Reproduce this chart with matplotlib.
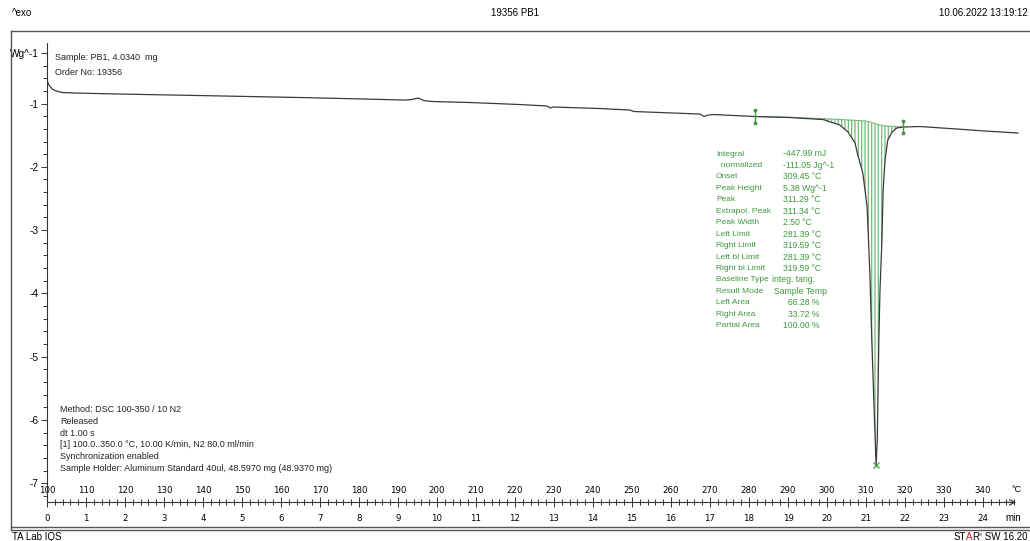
import matplotlib
matplotlib.use("Agg")
import numpy as np
import matplotlib.pyplot as plt
from matplotlib.lines import Line2D
from matplotlib.ticker import MultipleLocator

# DSC curve of sample PB1: heat flow (W/g) against time (min), 10 K/min from 100 °C
time_min = [0.0, 0.05, 0.13, 0.23, 0.39, 0.72, 1.87, 3.92, 6.49, 8.15,
            9.18, 9.36, 9.51, 9.67, 9.87, 10.85, 12.13, 12.82, 12.90, 12.97,
            14.18, 14.95, 15.05, 15.72, 16.74, 16.85, 16.95, 17.10, 18.15, 19.05,
            19.90, 20.33, 20.54, 20.72, 20.79, 20.92, 21.03, 21.10, 21.15, 21.21,
            21.26, 21.29, 21.33, 21.36, 21.41, 21.44, 21.49, 21.56, 21.67, 21.79,
            21.95, 22.38, 23.15, 24.05, 24.90]
heat_flow = [-0.63, -0.71, -0.77, -0.80, -0.826, -0.834, -0.85, -0.874, -0.905, -0.929,
             -0.945, -0.937, -0.913, -0.953, -0.968, -0.984, -1.016, -1.039, -1.071, -1.055,
             -1.079, -1.103, -1.126, -1.142, -1.166, -1.205, -1.182, -1.174, -1.205, -1.221,
             -1.253, -1.34, -1.45, -1.624, -1.813, -2.098, -2.635, -3.678, -4.736, -5.842,
             -6.71, -6.316, -4.736, -3.945, -3.155, -2.365, -1.891, -1.576, -1.45, -1.387,
             -1.371, -1.363, -1.395, -1.434, -1.466]

# tangential integration baseline between the left and right limits
base_time = [18.15, 19.05, 20.33, 21.00, 21.15, 21.31, 21.49, 21.95]
base_flow = [-1.205, -1.217, -1.252, -1.276, -1.30, -1.332, -1.355, -1.371]

start_temp = 100.0
heat_rate = 10.0
temp_ticks = list(range(100, 341, 10))
min_ticks = list(range(0, 25))
flow_ticks = [-7, -6, -5, -4, -3, -2, -1]

result_names = ["Integral", "  normalized", "Onset", "Peak Height", "Peak",
                "Extrapol. Peak", "Peak Width", "Left Limit", "Right Limit",
                "Left bl Limit", "Right bl Limit", "Baseline Type", "Result Mode",
                "Left Area", "Right Area", "Partial Area"]
result_values = ["-447.99 mJ", "-111.05 Jg^-1", "309.45 °C", "5.38 Wg^-1", "311.29 °C",
                 "311.34 °C", "2.50 °C", "281.39 °C", "319.59 °C", "281.39 °C",
                 "319.59 °C", "integ. tang.", "Sample Temp", "66.28 %", "33.72 %",
                 "100.00 %"]
value_px = [783, 783, 783, 783, 783, 783, 783, 783, 783, 783, 783, 772, 774, 788, 788, 783]

sample_lines = ["Sample: PB1, 4.0340  mg", "Order No: 19356"]
method_lines = ["Method: DSC 100-350 / 10 N2", "Released", "dt 1.00 s",
                "[1] 100.0..350.0 °C, 10.00 K/min, N2 80.0 ml/min",
                "Synchronization enabled",
                "Sample Holder: Aluminum Standard 40ul, 48.5970 mg (48.9370 mg)"]

plt.rcParams['font.family'] = ['Liberation Sans', 'DejaVu Sans']
GREEN = '#3d9a3d'
HATCH = '#74bb74'
FRAME = '#555555'
W, H = 1030, 541


def fx(px):
    return px / W


def fy(py):
    return 1 - py / H


fig = plt.figure(figsize=(W / 100, H / 100), dpi=100)
ax = fig.add_axes([fx(47), fy(502.3), (1020 - 47) / W, (502.3 - 43.4) / H])
ax.set_xlim(0, 24.95)
ax.set_ylim(-7.3, -0.05)

t = np.array(time_min)
q = np.array(heat_flow)

# hatched peak area between curve and baseline
sel = (t >= base_time[0]) & (t <= base_time[-1])
px = np.concatenate([t[sel], base_time[::-1]])
py = np.concatenate([q[sel], base_flow[::-1]])
plt.rcParams['hatch.linewidth'] = 0.9
ax.fill(px, py, facecolor='none', edgecolor=HATCH, hatch='|||||', linewidth=0)
ax.plot(base_time, base_flow, color=HATCH, lw=0.8)

ax.plot(t, q, color='#3a3a3a', lw=0.9)

# limit markers and peak cross
for bt, bf in [(base_time[0], base_flow[0]), (base_time[-1], base_flow[-1])]:
    ax.plot([bt, bt], [bf + 0.1, bf - 0.1], color=GREEN, lw=1.0, marker='.', ms=3.5)
ipk = int(np.argmin(q))
ax.plot(t[ipk], q[ipk], 'x', color=GREEN, ms=5, mew=0.9)

# axes styling
for s in ['top', 'right']:
    ax.spines[s].set_visible(False)
ax.spines['left'].set_color('#333333')
ax.spines['bottom'].set_color('#333333')
ax.spines['left'].set_linewidth(0.8)
ax.spines['bottom'].set_linewidth(0.8)
ax.spines['bottom'].set_bounds(0, 24.8)

ax.set_yticks(flow_ticks + [-0.2], [str(v) for v in flow_ticks] + ['Wg^-1'])
ax.yaxis.set_minor_locator(MultipleLocator(0.2))
ax.tick_params(axis='y', which='major', direction='out', length=4.5, width=0.7,
               labelsize=7.3, pad=1.5, color='#333333')
ax.tick_params(axis='y', which='minor', direction='out', length=3, width=0.7,
               color='#333333')

ax.set_xticks(min_ticks, [str(v) for v in min_ticks])
ax.xaxis.set_minor_locator(MultipleLocator(0.2))
ax.tick_params(axis='x', which='major', direction='inout', length=7, width=0.7,
               labelsize=6.5, pad=5, color='#333333')
ax.tick_params(axis='x', which='minor', direction='inout', length=4, width=0.7,
               color='#333333')
for lbl in ax.get_xticklabels():
    lbl.set_family('DejaVu Sans')
    lbl.set_fontsize(6.2)

secax = ax.secondary_xaxis(0, functions=(lambda m: start_temp + heat_rate * m,
                                         lambda c: (c - start_temp) / heat_rate))
secax.set_alignment('top')
secax.set_xticks(temp_ticks, [str(v) for v in temp_ticks])
secax.tick_params(length=0, pad=5.5, labelsize=6.2)
for lbl in secax.get_xticklabels():
    lbl.set_family('DejaVu Sans')
for sp in secax.spines.values():
    sp.set_visible(False)

ax.annotate('', xy=(24.85, -7.3), xytext=(24.55, -7.3),
            arrowprops=dict(arrowstyle='->', lw=0.8, color='#333333',
                            shrinkA=0, shrinkB=0))
fig.text(fx(1017), fy(489), '°C', fontsize=6.5, ha='center', va='center')
fig.text(fx(1013), fy(518), 'min', fontsize=7, ha='center', va='center')

# annotation blocks
for i, s in enumerate(sample_lines):
    fig.text(fx(55), fy(57 + i * 16), s, fontsize=6.5, va='center', color='#222222')
for i, s in enumerate(method_lines):
    fig.text(fx(60), fy(409.5 + i * 11.8), s, fontsize=6.5, va='center', color='#222222')
for i, (n, v) in enumerate(zip(result_names, result_values)):
    y = fy(154 + i * 11.45)
    fig.text(fx(716), y, n, fontsize=6.0, va='center', color=GREEN)
    fig.text(fx(value_px[i]), y, v, fontsize=6.2, va='center', color=GREEN)

# page frame and header/footer
fig.add_artist(Line2D([fx(11), 1], [fy(31), fy(31)], color=FRAME, lw=1))
fig.add_artist(Line2D([fx(11), fx(11)], [fy(31), fy(529.5)], color=FRAME, lw=1))
fig.add_artist(Line2D([fx(11), 1], [fy(526.5), fy(526.5)], color=FRAME, lw=1))
fig.add_artist(Line2D([fx(11), 1], [fy(529.5), fy(529.5)], color=FRAME, lw=1))

fig.text(fx(12), fy(13), '^exo', fontsize=7, va='center')
fig.text(fx(515), fy(13), '19356 PB1', fontsize=7, va='center', ha='center')
fig.text(fx(1028), fy(13), '10.06.2022 13:19:12', fontsize=7, va='center', ha='right')
fig.text(fx(12), fy(537), 'TA Lab IQS', fontsize=7, va='center')

renderer = fig.canvas.get_renderer()
parts = [('ST', 'black', 0, 7), ('A', '#d42020', 0, 7), ('R', 'black', 0, 7),
         ('e', '#d42020', 3, 4.5), (' SW 16.20', 'black', 0, 7)]
xr = 1028
for s, c, dy, sz in reversed(parts):
    txt = fig.text(fx(xr), fy(537 - dy), s, fontsize=sz, va='center', ha='right', color=c)
    xr = txt.get_window_extent(renderer).x0

fig.savefig('out.png', dpi=100)
